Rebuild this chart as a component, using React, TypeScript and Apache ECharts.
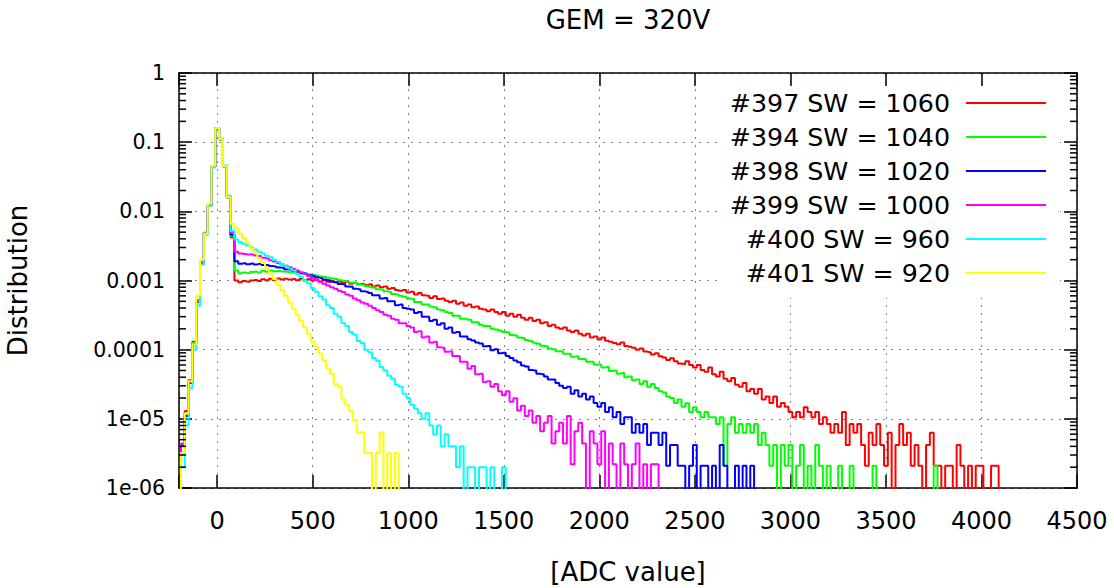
import { useEffect, useRef } from "react";
import * as echarts from "echarts";

// Histogram binning (ADC units): first bin centre and bin width
const BIN_START = -200;
const BIN_WIDTH = 20;
// Empty bins are pushed below the visible range so the step line drops to the axis
const EMPTY_BIN_FLOOR = 1e-7;

const runNames = [
  "#397 SW = 1060",
  "#394 SW = 1040",
  "#398 SW = 1020",
  "#399 SW = 1000",
  "#400 SW = 960",
  "#401 SW = 920",
];
const runColors = ["#ff0000", "#00ff00", "#0000ff", "#ff00ff", "#00ffff", "#ffff00"];

// Normalised ADC distributions, one value per 20-count bin starting at -200
const run397 = [
  2.1e-6, 4.2e-6, 1.3e-5, 3.6e-5, 1.3e-4, 5.2e-4, 1.8e-3, 4.9e-3, 1.2e-2, 4.4e-2,
  0.16, 0.11, 0.045, 0.016, 4.2e-3, 1.0e-3, 9.4e-4, 9.8e-4, 9.6e-4, 1.0e-3,
  1.02e-3, 9.8e-4, 1.04e-3, 1.01e-3, 1.06e-3, 1.02e-3, 1.07e-3, 1.03e-3, 1.06e-3, 1.03e-3,
  1.05e-3, 1.01e-3, 1.06e-3, 1.0e-3, 1.04e-3, 1.0e-3, 1.03e-3, 9.7e-4, 1.01e-3, 9.6e-4,
  9.9e-4, 9.4e-4, 9.7e-4, 9.3e-4, 9.6e-4, 9.0e-4, 9.3e-4, 8.8e-4, 9.0e-4, 8.6e-4,
  8.8e-4, 8.2e-4, 8.5e-4, 8.0e-4, 8.2e-4, 7.6e-4, 7.8e-4, 7.3e-4, 7.1e-4, 7.3e-4,
  6.7e-4, 6.9e-4, 6.3e-4, 6.6e-4, 6.1e-4, 6.0e-4, 5.6e-4, 5.9e-4, 5.4e-4, 5.5e-4,
  5.1e-4, 4.9e-4, 5.1e-4, 4.6e-4, 4.8e-4, 4.3e-4, 4.5e-4, 4.1e-4, 4.2e-4, 3.9e-4,
  3.8e-4, 3.6e-4, 3.8e-4, 3.5e-4, 3.3e-4, 3.5e-4, 3.1e-4, 3.3e-4, 3.0e-4, 3.2e-4,
  2.9e-4, 2.7e-4, 2.9e-4, 2.6e-4, 2.7e-4, 2.4e-4, 2.5e-4, 2.2e-4, 2.3e-4, 2.1e-4,
  2.0e-4, 2.1e-4, 1.9e-4, 1.8e-4, 1.9e-4, 1.7e-4, 1.6e-4, 1.7e-4, 1.5e-4, 1.55e-4,
  1.4e-4, 1.5e-4, 1.35e-4, 1.3e-4, 1.25e-4, 1.2e-4, 1.27e-4, 1.13e-4, 1.1e-4, 1.07e-4,
  1.0e-4, 1.04e-4, 9.4e-5, 9.2e-5, 8.5e-5, 8.9e-5, 8.0e-5, 7.7e-5, 7.1e-5, 7.5e-5,
  6.8e-5, 6.3e-5, 6.2e-5, 6.8e-5, 6.0e-5, 5.5e-5, 6.0e-5, 5.1e-5, 4.8e-5, 5.5e-5,
  4.4e-5, 4.1e-5, 4.8e-5, 3.8e-5, 3.5e-5, 3.9e-5, 3.1e-5, 2.9e-5, 3.3e-5, 2.5e-5,
  2.7e-5, 2.3e-5, 2.7e-5, 1.9e-5, 2.1e-5, 1.7e-5, 2.1e-5, 1.5e-5, 1.7e-5, 1.5e-5,
  1.26e-5, 1.05e-5, 1.26e-5, 1.05e-5, 1.47e-5, 1.26e-5, 1.05e-5, 1.26e-5, 8.4e-6, 1.05e-5,
  8.4e-6, 6.3e-6, 8.4e-6, 6.3e-6, 1.26e-5, 4.2e-6, 8.4e-6, 6.3e-6, 8.4e-6, 4.2e-6,
  2.1e-6, 6.3e-6, 4.2e-6, 8.4e-6, 4.2e-6, 2.1e-6, 6.3e-6, 0, 4.2e-6, 8.4e-6,
  4.2e-6, 6.3e-6, 2.1e-6, 4.2e-6, 2.1e-6, 0, 4.2e-6, 6.3e-6, 2.1e-6, 2.1e-6,
  0, 2.1e-6, 2.1e-6, 0, 4.2e-6, 2.1e-6, 0, 2.1e-6, 0, 2.1e-6,
  2.1e-6, 0, 0, 2.1e-6, 2.1e-6, 0,
];

const run394 = [
  2.1e-6, 4.2e-6, 1.2e-5, 3.4e-5, 1.25e-4, 5.0e-4, 1.8e-3, 4.8e-3, 1.2e-2, 4.4e-2,
  0.16, 0.11, 0.045, 0.016, 4.4e-3, 1.4e-3, 1.26e-3, 1.3e-3, 1.27e-3, 1.33e-3,
  1.35e-3, 1.3e-3, 1.38e-3, 1.34e-3, 1.4e-3, 1.36e-3, 1.37e-3, 1.35e-3, 1.34e-3, 1.31e-3,
  1.3e-3, 1.31e-3, 1.26e-3, 1.25e-3, 1.22e-3, 1.2e-3, 1.18e-3, 1.14e-3, 1.12e-3, 1.1e-3,
  1.07e-3, 1.05e-3, 1.01e-3, 9.9e-4, 9.7e-4, 9.3e-4, 9.2e-4, 8.8e-4, 8.7e-4, 8.3e-4,
  8.1e-4, 7.9e-4, 7.5e-4, 7.4e-4, 7.0e-4, 6.9e-4, 6.4e-4, 6.3e-4, 6.0e-4, 5.8e-4,
  5.5e-4, 5.4e-4, 4.9e-4, 4.9e-4, 4.5e-4, 4.5e-4, 4.2e-4, 4.1e-4, 3.8e-4, 3.7e-4,
  3.5e-4, 3.4e-4, 3.1e-4, 3.1e-4, 2.8e-4, 2.8e-4, 2.7e-4, 2.5e-4, 2.5e-4, 2.3e-4,
  2.2e-4, 2.2e-4, 2.0e-4, 1.95e-4, 1.9e-4, 1.8e-4, 1.78e-4, 1.63e-4, 1.6e-4, 1.5e-4,
  1.47e-4, 1.38e-4, 1.33e-4, 1.26e-4, 1.22e-4, 1.14e-4, 1.12e-4, 1.04e-4, 1.01e-4, 9.5e-5,
  9.5e-5, 8.7e-5, 8.7e-5, 7.9e-5, 8.0e-5, 7.3e-5, 7.3e-5, 6.7e-5, 6.7e-5, 6.1e-5,
  6.1e-5, 5.5e-5, 5.6e-5, 4.9e-5, 5.0e-5, 4.5e-5, 4.6e-5, 4.0e-5, 4.1e-5, 3.6e-5,
  3.7e-5, 3.2e-5, 3.5e-5, 2.9e-5, 3.2e-5, 2.8e-5, 2.5e-5, 2.4e-5, 2.1e-5, 2.0e-5,
  1.7e-5, 1.9e-5, 1.5e-5, 1.68e-5, 1.26e-5, 1.47e-5, 1.26e-5, 1.05e-5, 1.26e-5, 1.05e-5,
  1.05e-5, 8.4e-6, 1.05e-5, 2.1e-6, 8.4e-6, 1.05e-5, 6.3e-6, 8.4e-6, 6.3e-6, 8.4e-6,
  6.3e-6, 8.4e-6, 4.2e-6, 6.3e-6, 4.2e-6, 2.1e-6, 4.2e-6, 0, 4.2e-6, 2.1e-6,
  4.2e-6, 0, 2.1e-6, 4.2e-6, 0, 2.1e-6, 0, 4.2e-6, 2.1e-6, 0,
  2.1e-6, 0, 0, 2.1e-6, 0, 0, 2.1e-6, 0, 0, 0,
  0, 0, 2.1e-6, 0, 0, 0, 0, 0, 0, 0,
  0, 0, 0, 0, 0, 0, 0, 0, 2.1e-6, 0,
];

const run398 = [
  2.1e-6, 4.2e-6, 1.1e-5, 3.3e-5, 1.2e-4, 4.9e-4, 1.8e-3, 4.8e-3, 1.2e-2, 4.4e-2,
  0.16, 0.11, 0.045, 0.016, 4.6e-3, 1.9e-3, 1.75e-3, 1.78e-3, 1.72e-3, 1.76e-3,
  1.71e-3, 1.74e-3, 1.68e-3, 1.67e-3, 1.62e-3, 1.6e-3, 1.54e-3, 1.53e-3, 1.46e-3, 1.44e-3,
  1.37e-3, 1.35e-3, 1.28e-3, 1.26e-3, 1.19e-3, 1.17e-3, 1.11e-3, 1.09e-3, 1.03e-3, 1.01e-3,
  9.6e-4, 9.4e-4, 8.9e-4, 8.8e-4, 8.2e-4, 8.1e-4, 7.6e-4, 7.5e-4, 7.0e-4, 6.9e-4,
  6.6e-4, 6.1e-4, 6.1e-4, 5.5e-4, 5.6e-4, 5.0e-4, 5.0e-4, 4.4e-4, 4.5e-4, 4.0e-4,
  3.9e-4, 3.8e-4, 3.4e-4, 3.5e-4, 3.0e-4, 3.0e-4, 2.6e-4, 2.7e-4, 2.3e-4, 2.4e-4,
  2.0e-4, 2.1e-4, 1.75e-4, 1.8e-4, 1.55e-4, 1.55e-4, 1.42e-4, 1.36e-4, 1.27e-4, 1.23e-4,
  1.12e-4, 1.13e-4, 9.8e-5, 1.01e-4, 8.9e-5, 9.0e-5, 8.1e-5, 7.6e-5, 7.0e-5, 6.6e-5,
  5.9e-5, 5.7e-5, 5.1e-5, 5.0e-5, 4.5e-5, 4.4e-5, 4.1e-5, 3.7e-5, 3.7e-5, 3.3e-5,
  3.0e-5, 2.8e-5, 2.9e-5, 2.3e-5, 2.6e-5, 2.1e-5, 2.3e-5, 1.9e-5, 2.1e-5, 1.7e-5,
  1.5e-5, 1.7e-5, 1.26e-5, 1.47e-5, 1.05e-5, 1.26e-5, 8.4e-6, 1.05e-5, 1.05e-5, 6.3e-6,
  8.4e-6, 6.3e-6, 8.4e-6, 4.2e-6, 6.3e-6, 6.3e-6, 4.2e-6, 6.3e-6, 2.1e-6, 4.2e-6,
  4.2e-6, 2.1e-6, 2.1e-6, 0, 2.1e-6, 4.2e-6, 0, 2.1e-6, 2.1e-6, 0,
  2.1e-6, 0, 4.2e-6, 2.1e-6, 0, 0, 2.1e-6, 0, 2.1e-6, 0,
  2.1e-6, 0,
];

const run399 = [
  2.2e-6, 4.4e-6, 1.2e-5, 3.4e-5, 1.2e-4, 4.9e-4, 1.8e-3, 4.8e-3, 1.2e-2, 4.4e-2,
  0.16, 0.11, 0.045, 0.016, 4.9e-3, 2.6e-3, 2.45e-3, 2.42e-3, 2.37e-3, 2.4e-3,
  2.3e-3, 2.26e-3, 2.14e-3, 2.09e-3, 1.96e-3, 1.89e-3, 1.79e-3, 1.71e-3, 1.63e-3, 1.56e-3,
  1.47e-3, 1.4e-3, 1.32e-3, 1.24e-3, 1.16e-3, 1.09e-3, 1.02e-3, 9.6e-4, 9.0e-4, 8.5e-4,
  8.0e-4, 7.6e-4, 7.1e-4, 6.8e-4, 6.3e-4, 6.0e-4, 5.5e-4, 5.2e-4, 4.8e-4, 4.6e-4,
  4.3e-4, 4.0e-4, 3.7e-4, 3.5e-4, 3.2e-4, 3.1e-4, 2.8e-4, 2.7e-4, 2.4e-4, 2.4e-4,
  2.2e-4, 2.1e-4, 1.8e-4, 1.85e-4, 1.5e-4, 1.55e-4, 1.27e-4, 1.3e-4, 1.08e-4, 1.07e-4,
  9.3e-5, 9.4e-5, 8.1e-5, 8.1e-5, 6.7e-5, 6.7e-5, 5.3e-5, 5.8e-5, 4.4e-5, 4.5e-5,
  3.4e-5, 3.5e-5, 2.9e-5, 3.2e-5, 2.5e-5, 2.2e-5, 2.5e-5, 1.76e-5, 1.98e-5, 1.32e-5,
  1.54e-5, 1.1e-5, 1.32e-5, 8.8e-6, 1.1e-5, 6.6e-6, 8.8e-6, 1.1e-5, 4.4e-6, 6.6e-6,
  8.8e-6, 4.4e-6, 1.1e-5, 2.2e-6, 6.6e-6, 8.8e-6, 4.4e-6, 0, 6.6e-6, 4.4e-6,
  2.2e-6, 6.6e-6, 0, 4.4e-6, 2.2e-6, 0, 4.4e-6, 2.2e-6, 0, 2.2e-6,
  4.4e-6, 0, 2.2e-6, 0, 2.2e-6, 2.2e-6, 0,
];

const run400 = [
  0, 2.0e-6, 8.0e-6, 2.8e-5, 1.0e-4, 4.3e-4, 1.7e-3, 4.6e-3, 1.2e-2, 4.3e-2,
  0.16, 0.11, 0.046, 0.017, 5.2e-3, 3.9e-3, 3.6e-3, 3.4e-3, 3.2e-3, 3.0e-3,
  2.8e-3, 2.6e-3, 2.46e-3, 2.28e-3, 2.16e-3, 1.98e-3, 1.87e-3, 1.72e-3, 1.63e-3, 1.49e-3,
  1.39e-3, 1.24e-3, 1.13e-3, 9.9e-4, 9.1e-4, 7.8e-4, 6.9e-4, 5.9e-4, 5.3e-4, 4.4e-4,
  4.0e-4, 3.3e-4, 3.0e-4, 2.4e-4, 2.2e-4, 1.8e-4, 1.65e-4, 1.34e-4, 1.25e-4, 1.0e-4,
  9.2e-5, 7.6e-5, 6.9e-5, 5.6e-5, 5.0e-5, 4.2e-5, 3.8e-5, 3.1e-5, 2.9e-5, 2.3e-5,
  2.0e-5, 1.6e-5, 1.4e-5, 1.2e-5, 1.0e-5, 1.2e-5, 8.0e-6, 6.0e-6, 8.0e-6, 4.0e-6,
  6.0e-6, 4.0e-6, 4.0e-6, 2.0e-6, 4.0e-6, 0, 2.0e-6, 2.0e-6, 0, 2.0e-6,
  2.0e-6, 0, 2.0e-6, 0, 0, 2.0e-6, 0,
];

const run401 = [
  0, 3.2e-6, 1.2e-5, 3.5e-5, 1.2e-4, 6.0e-4, 2.0e-3, 4.8e-3, 1.3e-2, 4.6e-2,
  0.16, 0.11, 0.045, 0.016, 6.6e-3, 5.6e-3, 4.8e-3, 4.1e-3, 3.5e-3, 2.9e-3,
  2.5e-3, 2.1e-3, 1.8e-3, 1.5e-3, 1.25e-3, 1.05e-3, 8.7e-4, 7.3e-4, 6.0e-4, 4.8e-4,
  3.9e-4, 3.2e-4, 2.6e-4, 2.1e-4, 1.7e-4, 1.3e-4, 1.08e-4, 8.8e-5, 7.0e-5, 5.4e-5,
  4.5e-5, 3.2e-5, 2.9e-5, 1.9e-5, 1.6e-5, 1.3e-5, 9.6e-6, 6.4e-6, 6.4e-6, 3.2e-6,
  3.2e-6, 0, 3.2e-6, 6.4e-6, 0, 3.2e-6, 0, 3.2e-6, 0,
];

const runs = [run397, run394, run398, run399, run400, run401];

// Axis ranges and tick labels
const X_MIN = -200;
const X_MAX = 4500;
const xTickValues = [0, 500, 1000, 1500, 2000, 2500, 3000, 3500, 4000, 4500];
const Y_MIN = 1e-6;
const Y_MAX = 1;
const yTickLabels = ["1e-06", "1e-05", "0.0001", "0.001", "0.01", "0.1", "1"];
const yMinorMultipliers = [2, 3, 4, 5, 6, 7, 8, 9];
const yMinorDecades = [1e-6, 1e-5, 1e-4, 1e-3, 1e-2, 1e-1];

const FONT = "DejaVu Sans";
const INK = "#000";
const gridDots = { type: [2, 6] as number[], color: "#808080", width: 1 };

export default function App() {
  const ref = useRef<HTMLDivElement>(null);

  useEffect(() => {
    if (!ref.current) return;
    const chart = echarts.init(ref.current, undefined, { renderer: "svg" });

    const series = runs.map((vals, i) => ({
      type: "line",
      name: runNames[i],
      step: "middle",
      symbol: "none",
      showSymbol: false,
      clip: true,
      data: vals.map((v, k) => [BIN_START + k * BIN_WIDTH, v > 0 ? v : EMPTY_BIN_FLOOR]),
      lineStyle: { color: runColors[i], width: 2 },
      itemStyle: { color: runColors[i] },
      emphasis: { disabled: true },
    }));

    const xLabel = (v: number) => (xTickValues.includes(v) ? String(v) : "");
    const yLabel = (v: number) => yTickLabels[Math.round(Math.log10(v)) + 6] ?? "";

    const axisLine = { show: true, onZero: false, lineStyle: { color: INK, width: 1.5 } };
    const majorTick = { show: true, inside: true, length: 13, lineStyle: { color: INK, width: 1.5 } };

    chart.setOption({
      animation: false,
      textStyle: { fontFamily: FONT, color: INK },
      title: {
        text: "GEM = 320V",
        left: 628,
        top: 7,
        padding: 0,
        textAlign: "center",
        textStyle: { fontFamily: FONT, fontSize: 26, fontWeight: "normal", color: INK },
      },
      grid: { left: 179, right: 37, top: 73, bottom: 100, outerBoundsMode: "none" },
      legend: {
        orient: "vertical",
        right: 54,
        top: 86,
        align: "right",
        icon: "rect",
        itemWidth: 80,
        itemHeight: 2,
        itemGap: 0,
        padding: [0, 14, 8, 12],
        backgroundColor: "#fff",
        selectedMode: false,
        data: runNames,
        textStyle: { fontFamily: FONT, fontSize: 25.3, lineHeight: 34, color: INK, padding: [0, 11, 0, 0] },
      },
      xAxis: [
        {
          type: "value",
          position: "bottom",
          min: X_MIN,
          max: X_MAX,
          splitNumber: 10,
          axisLine,
          axisTick: majorTick,
          axisLabel: { formatter: xLabel, fontSize: 24, color: INK, margin: 21, fontFamily: FONT },
          splitLine: { show: true, lineStyle: gridDots },
          name: "[ADC value]",
          nameLocation: "middle",
          nameGap: 71,
          nameTextStyle: { fontFamily: FONT, fontSize: 26, color: INK },
        },
        {
          type: "value",
          position: "top",
          min: X_MIN,
          max: X_MAX,
          splitNumber: 10,
          axisLine,
          axisTick: majorTick,
          axisLabel: { show: false },
          splitLine: { show: false },
        },
      ],
      yAxis: [
        {
          type: "log",
          logBase: 10,
          position: "left",
          min: Y_MIN,
          max: Y_MAX,
          splitNumber: 6,
          axisLine,
          axisTick: majorTick,
          axisLabel: { formatter: yLabel, fontSize: 20.5, color: INK, margin: 14, fontFamily: FONT },
          splitLine: { show: true, lineStyle: gridDots },
          name: "Distribution",
          nameLocation: "middle",
          nameRotate: 90,
          nameGap: 148,
          nameTextStyle: { fontFamily: FONT, fontSize: 26, color: INK },
        },
        {
          type: "log",
          logBase: 10,
          position: "right",
          min: Y_MIN,
          max: Y_MAX,
          splitNumber: 6,
          axisLine,
          axisTick: majorTick,
          axisLabel: { show: false },
          splitLine: { show: false },
        },
      ],
      series,
    });

    // Logarithmic minor ticks (2..9 within each decade) on both vertical borders
    const xLeft = chart.convertToPixel({ xAxisIndex: 0 }, X_MIN) as number;
    const xRight = chart.convertToPixel({ xAxisIndex: 0 }, X_MAX) as number;
    const minorLen = 7;
    const minorTicks: any[] = [];
    yMinorDecades.forEach((d) => {
      yMinorMultipliers.forEach((m) => {
        const y = chart.convertToPixel({ yAxisIndex: 0 }, m * d) as number;
        const style = { stroke: INK, lineWidth: 1.5 };
        minorTicks.push({
          type: "line",
          silent: true,
          z: 10,
          shape: { x1: xLeft, y1: y, x2: xLeft + minorLen, y2: y },
          style,
        });
        minorTicks.push({
          type: "line",
          silent: true,
          z: 10,
          shape: { x1: xRight - minorLen, y1: y, x2: xRight, y2: y },
          style,
        });
      });
    });
    chart.setOption({ graphic: { elements: minorTicks } });

    return () => chart.dispose();
  }, []);

  return (
    <div
      ref={ref}
      style={{ position: "fixed", left: 0, top: 0, width: 1114, height: 588, background: "#fff" }}
    />
  );
}
